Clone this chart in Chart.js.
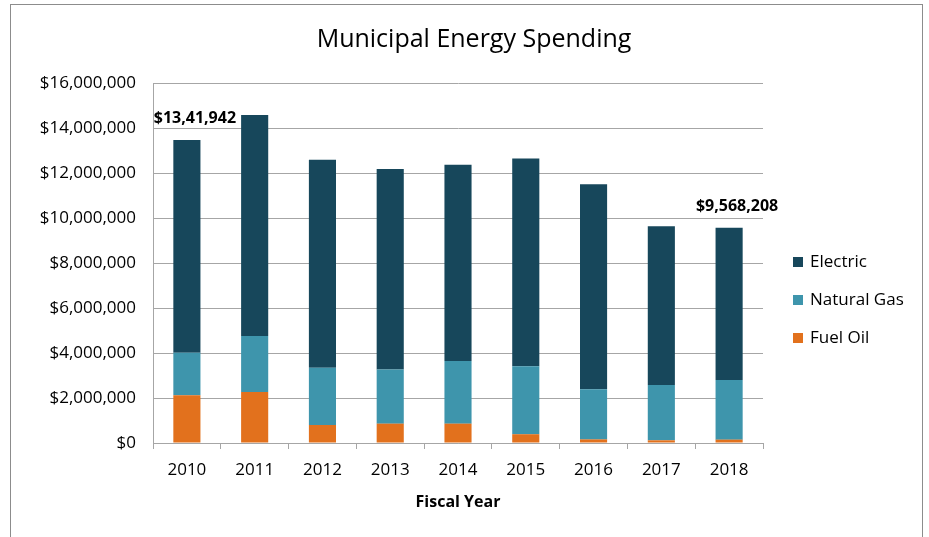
<!DOCTYPE html>
<html>
<head>
<meta charset="utf-8">
<script src="https://cdn.jsdelivr.net/npm/chart.js@4"></script>
<style>
  html, body { margin: 0; padding: 0; background: #fff; }
  #wrap { width: 929px; height: 537px; position: relative; }
</style>
</head>
<body>
<div id="wrap"><canvas id="chart" width="929" height="537"></canvas></div>
<script>
// Dados
const years = ['2010', '2011', '2012', '2013', '2014', '2015', '2016', '2017', '2018'];
const fuelOil = [2120000, 2270000, 800000, 860000, 860000, 390000, 160000, 120000, 150000];
const naturalGas = [1890000, 2490000, 2550000, 2410000, 2780000, 3020000, 2230000, 2460000, 2650000];
const electric = [9460000, 9820000, 9240000, 8910000, 8730000, 9230000, 9110000, 7050000, 6768208];
const yTicks = [0, 2000000, 4000000, 6000000, 8000000, 10000000, 12000000, 14000000, 16000000];
const annotations = [
    { index: 0, text: '$13,41,942' },
    { index: 8, text: '$9,568,208' }
];

const FONT = '"Open Sans", Lato, sans-serif';
const gridColor = '#a6a6a6';

// Moldura, título, legenda e rótulos de total
const extras = {
    id: 'extras',
    beforeDraw(chart) {
        const c = chart.ctx;
        c.save();
        c.fillStyle = '#fff';
        c.fillRect(0, 0, chart.width, chart.height);
        c.strokeStyle = '#8c8c8c';
        c.lineWidth = 1;
        c.strokeRect(10.5, 4.5, 912, 560);
        c.restore();
    },
    afterDraw(chart) {
        const c = chart.ctx;
        const x = chart.scales.x, y = chart.scales.y;
        c.save();
        c.fillStyle = '#000';
        c.font = '25px ' + FONT;
        c.textAlign = 'center';
        c.textBaseline = 'middle';
        c.fillText('Municipal Energy Spending', 474, 40);

        // legenda (ordem inversa das séries)
        const order = [2, 1, 0];
        c.font = '17px ' + FONT;
        c.textAlign = 'left';
        order.forEach((di, i) => {
            const ds = chart.data.datasets[di];
            const cy = 262 + i * 38;
            c.fillStyle = ds.backgroundColor;
            c.fillRect(793, cy - 5, 10, 10);
            c.fillStyle = '#000';
            c.fillText(ds.label, 810, cy);
        });

        // totais anotados
        c.font = 'bold 16px ' + FONT;
        c.textAlign = 'center';
        annotations.forEach(a => {
            const total = fuelOil[a.index] + naturalGas[a.index] + electric[a.index];
            const px = x.getPixelForValue(a.index) + 8;
            const py = y.getPixelForValue(total) - 21;
            c.fillText(a.text, px, py);
        });
        c.restore();
    }
};

const ctx = document.getElementById('chart').getContext('2d');
const chart = new Chart(ctx, {
    type: 'bar',
    data: {
        labels: years,
        datasets: [
            { label: 'Fuel Oil', data: fuelOil, backgroundColor: '#e2711d' },
            { label: 'Natural Gas', data: naturalGas, backgroundColor: '#3e95ac' },
            { label: 'Electric', data: electric, backgroundColor: '#17475b' }
        ]
    },
    options: {
        responsive: false,
        animation: false,
        layout: { padding: { top: 83, right: 166, bottom: 25, left: 0 } },
        datasets: {
            bar: {
                categoryPercentage: 1,
                barPercentage: 0.4,
                borderWidth: 0
            }
        },
        plugins: {
            legend: { display: false },
            title: { display: false },
            tooltip: { enabled: false }
        },
        scales: {
            x: {
                stacked: true,
                afterFit(scale) { scale.height = 69; },
                grid: {
                    offset: true,
                    drawOnChartArea: false,
                    color: gridColor,
                    tickLength: 6
                },
                border: { color: gridColor },
                ticks: {
                    color: '#000',
                    font: { family: FONT, size: 17 },
                    padding: 11
                },
                title: {
                    display: true,
                    text: 'Fiscal Year',
                    color: '#000',
                    font: { family: FONT, size: 16, weight: 'bold' },
                    padding: { top: 8, bottom: 0 }
                }
            },
            y: {
                stacked: true,
                min: 0,
                max: 16000000,
                afterFit(scale) { scale.width = 153; },
                afterBuildTicks(scale) { scale.ticks = yTicks.map(v => ({ value: v })); },
                grid: {
                    color: gridColor,
                    drawTicks: false
                },
                border: { color: gridColor },
                ticks: {
                    color: '#000',
                    font: { family: FONT, size: 17 },
                    padding: 17,
                    callback: v => '$' + Number(v).toLocaleString('en-US')
                }
            }
        }
    },
    plugins: [extras]
});
</script>
</body>
</html>
